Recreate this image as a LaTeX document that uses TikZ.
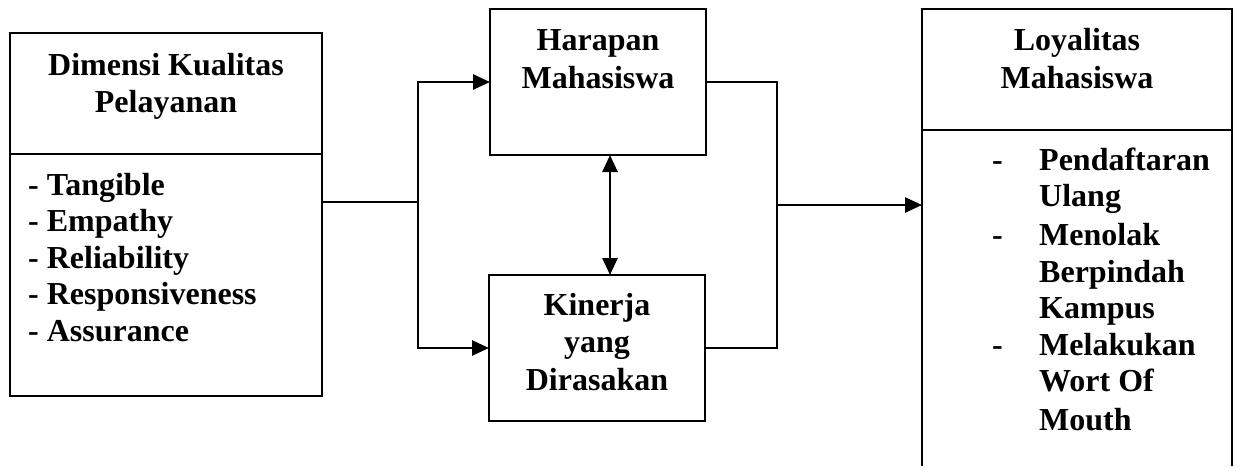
\documentclass[tikz,border=0pt]{standalone}
\usepackage{fontspec}
\setmainfont{Liberation Serif}
\usetikzlibrary{arrows.meta}
\begin{document}
\begin{tikzpicture}[x=1pt,y=-1pt,
  box/.style={draw,line width=2.8pt,inner sep=0pt,outer sep=0pt},
  lbl/.style={anchor=base,inner sep=0pt,font=\fontsize{32}{36}\selectfont\bfseries},
  lbw/.style={lbl,anchor=base west},
  conn/.style={line width=2.6pt},
  tip/.tip={Triangle[length=17pt,width=15pt]},
  arr/.style={conn,-tip},
]
\useasboundingbox (0,0) rectangle (1241,466);

% boxes
\node[box,minimum width=312pt,minimum height=121pt] (dimtop) at (166,93.5) {};
\node[box,minimum width=312pt,minimum height=242pt] (dimbody) at (166,275) {};
\node[box,minimum width=216pt,minimum height=146pt] (harapan) at (598,82) {};
\node[box,minimum width=216pt,minimum height=146pt] (kinerja) at (597,348) {};
\node[box,minimum width=310pt,minimum height=121pt] (loytop) at (1077,69.5) {};
\node[inner sep=0pt,outer sep=0pt,minimum width=310pt,minimum height=336pt] (loybody) at (1077,298) {};
\draw[line width=2.8pt] (loybody.south west) -- (loybody.north west) -- (loybody.north east) -- (loybody.south east);

% connectors
\coordinate (j1) at (418,202);
\coordinate (j2) at (777,205);
\draw[conn] (dimbody.east |- j1) -- (j1);
\draw[arr] (j1) |- (harapan.west);
\draw[arr] (j1) |- (kinerja.west);
\draw[conn,tip-tip] ([xshift=12pt]harapan.south) -- ([xshift=12pt]harapan.south |- kinerja.north);
\draw[conn] (harapan.east) -| (j2);
\draw[conn] (kinerja.east) -| (j2);
\draw[arr] (j2) -- (j2 -| loybody.west);

% texts
\node[lbl] (t1) at (166,75) {Dimensi Kualitas};
\node[lbl] (t2) at (166,112) {Pelayanan};
\foreach \t [count=\i] in {Tangible,Empathy,Reliability,Responsiveness,Assurance}
  \node[lbw] (l\i) at (28,{195+36.5*(\i-1)}) {- \t};

\node[lbl] (h1) at (598,50) {Harapan};
\node[lbl] (h2) at (598,88) {Mahasiswa};

\node[lbl] (k1) at (597,315) {Kinerja};
\node[lbl] (k2) at (597,352) {yang};
\node[lbl] (k3) at (597,390) {Dirasakan};

\node[lbl] (y1) at (1077,50) {Loyalitas};
\node[lbl] (y2) at (1077,88) {Mahasiswa};

\node[lbw] (d1) at (992,170) {-};
\node[lbw] (d2) at (992,245) {-};
\node[lbw] (d3) at (992,355) {-};
\node[lbw] (r1) at (1039,170) {Pendaftaran};
\node[lbw] (r2) at (1039,206) {Ulang};
\node[lbw] (r3) at (1039,245) {Menolak};
\node[lbw] (r4) at (1039,282) {Berpindah};
\node[lbw] (r5) at (1039,318) {Kampus};
\node[lbw] (r6) at (1039,355) {Melakukan};
\node[lbw] (r7) at (1039,391) {Wort Of};
\node[lbw] (r8) at (1039,430) {Mouth};
\end{tikzpicture}
\end{document}
